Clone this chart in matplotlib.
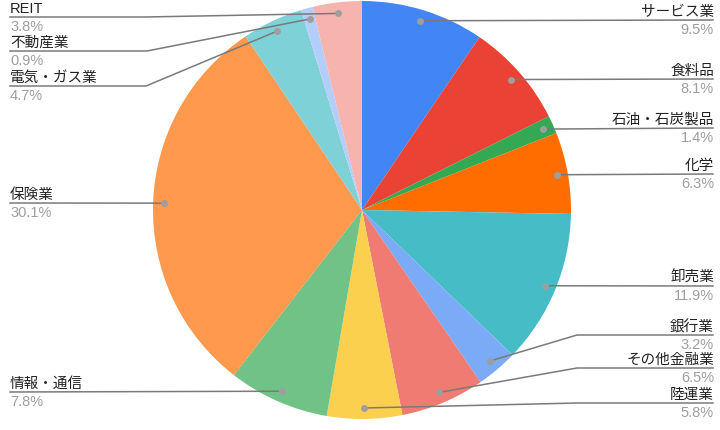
# -*- coding: UTF-8 -*-
"""
業種別構成比の円グラフ (ラベルは引き出し線付き)
"""
import numpy as np
import matplotlib
matplotlib.use("Agg")
import matplotlib.pyplot as plt

plt.rcParams['font.family'] = ['Liberation Sans', 'Noto Sans CJK JP', 'DejaVu Sans']

# データ (12時の位置から時計回り)
sectors = ["サービス業", "食料品", "石油・石炭製品", "化学", "卸売業", "銀行業",
           "その他金融業", "陸運業", "情報・通信", "保険業", "電気・ガス業",
           "不動産業", "REIT"]
shares = [9.5, 8.1, 1.4, 6.3, 11.9, 3.2, 6.5, 5.8, 7.8, 30.1, 4.7, 0.9, 3.8]
colors = ["#4285F4", "#EA4335", "#34A853", "#FF6D01", "#46BDC6", "#7BAAF7",
          "#F07B72", "#FCD04F", "#71C287", "#FF994D", "#7ED1D7", "#B3CEFB",
          "#F7B4AE"]

# ラベル配置 (ピクセル座標: 引き出し線の y と折れ点の x, 左右)
label_y = [21, 80, 129, 175, 287, 336, 369, 404, 393, 204, 87, 52, 18]
elbow_x = [None, None, None, None, None, 577, 577, 577, None, None, 146, 147, 145]
side = ["R", "R", "R", "R", "R", "R", "R", "R", "L", "L", "L", "L", "L"]

W, H = 720, 431
CX, CY, R = 362, 211, 209
DOT_R = 198


def py(y):
    """ピクセルの y (上から) をデータ座標に変換"""
    return H - y


def drawLabels(ax):
    total = float(sum(shares))
    cum = np.cumsum([0] + shares[:-1])
    for i, name in enumerate(sectors):
        mid = (cum[i] + shares[i] / 2.0) / total
        theta = np.deg2rad(90 - 360 * mid)
        dx = CX + DOT_R * np.cos(theta)
        dy = py(CY) + DOT_R * np.sin(theta)
        ly = py(label_y[i])
        if side[i] == "R":
            end_x, tx, ha = 713, 714, "right"
        else:
            end_x, tx, ha = 10, 10, "left"
        if elbow_x[i] is None:
            xs, ys = [dx, end_x], [dy, ly]
        else:
            xs, ys = [dx, elbow_x[i], end_x], [dy, ly, ly]
        ax.plot(xs, ys, color="#7a7a7a", lw=1.1, zorder=3)
        ax.plot(dx, dy, "o", ms=5, color="#9e9e9e", mec="none", zorder=4)
        ax.text(tx, ly + 2, name, ha=ha, va="bottom", fontsize=10.5,
                color="#222222")
        ax.text(tx, ly - 2, "%.1f%%" % shares[i], ha=ha, va="top",
                fontsize=10.5, color="#9e9e9e")


if __name__ == '__main__':
    fig = plt.figure(figsize=(W / 100.0, H / 100.0), dpi=100)
    ax = fig.add_axes([0, 0, 1, 1])
    ax.pie(shares, colors=colors, startangle=90, counterclock=False,
           radius=R, center=(CX, py(CY)), wedgeprops=dict(linewidth=0))
    drawLabels(ax)
    ax.set_xlim(0, W)
    ax.set_ylim(0, H)
    ax.set_axis_off()
    fig.savefig("out.png", dpi=100, facecolor="white")
